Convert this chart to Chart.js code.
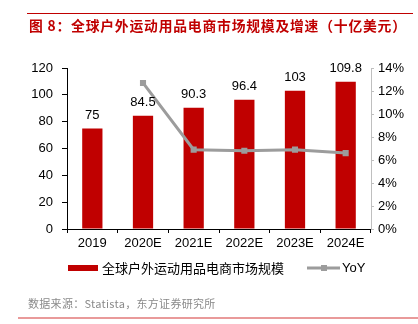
<!DOCTYPE html>
<html>
<head>
<meta charset="utf-8">
<script src="https://cdn.jsdelivr.net/npm/chart.js@4/dist/chart.umd.min.js"></script>
<style>
html,body{margin:0;padding:0;background:#fff;}
#wrap{position:relative;width:418px;height:324px;}
canvas{display:block;}
</style>
</head>
<body>
<div id="wrap"><canvas id="c" width="418" height="324"></canvas></div>
<script>
const titleText = '图 8：全球户外运动用品电商市场规模及增速（十亿美元）';
const sourceText = '数据来源：Statista，东方证券研究所';
const categories = ['2019', '2020E', '2021E', '2022E', '2023E', '2024E'];
const marketSize = [75, 84.5, 90.3, 96.4, 103, 109.8];
const yoy = [null, 0.127, 0.069, 0.068, 0.069, 0.066];
const barLabel = '全球户外运动用品电商市场规模';
const lineLabel = 'YoY';
const leftTicks = [0, 20, 40, 60, 80, 100, 120];
const rightTicks = [0, 0.02, 0.04, 0.06, 0.08, 0.10, 0.12, 0.14];

const RED = '#c00000';
const GRAY = '#9c9c9c';
const LATIN = "'Liberation Sans', Arial, 'Noto Sans CJK SC', sans-serif";
const CJK = "'Noto Sans CJK SC', 'Liberation Sans', sans-serif";

const decor = {
  id: 'decor',
  afterDatasetsDraw(chart) {
    const ctx = chart.ctx;
    const meta = chart.getDatasetMeta(0);
    ctx.save();
    ctx.font = '13px ' + LATIN;
    ctx.fillStyle = '#000';
    ctx.textAlign = 'center';
    ctx.textBaseline = 'alphabetic';
    meta.data.forEach((bar, i) => {
      ctx.fillText(String(marketSize[i]), bar.x, bar.y - 9.5);
    });
    ctx.restore();
  },
  afterDraw(chart) {
    const ctx = chart.ctx;
    ctx.save();
    // title rule
    ctx.strokeStyle = RED;
    ctx.lineWidth = 1;
    ctx.beginPath(); ctx.moveTo(27, 13.5); ctx.lineTo(413, 13.5); ctx.stroke();
    // title
    ctx.fillStyle = RED;
    ctx.font = 'bold 13.8px ' + CJK;
    ctx.textAlign = 'left';
    ctx.textBaseline = 'middle';
    ctx.letterSpacing = '0.8px';
    ctx.fillText(titleText, 29, 26);
    ctx.letterSpacing = '0px';
    // legend
    const ly = 268;
    ctx.fillStyle = RED;
    ctx.fillRect(68, ly - 3, 30, 6);
    ctx.fillStyle = '#000';
    ctx.font = '13px ' + CJK;
    ctx.fillText(barLabel, 102, ly);
    ctx.strokeStyle = GRAY;
    ctx.lineWidth = 3;
    ctx.beginPath(); ctx.moveTo(307, ly); ctx.lineTo(340, ly); ctx.stroke();
    ctx.fillStyle = GRAY;
    ctx.fillRect(321, ly - 3, 6, 6);
    ctx.fillStyle = '#000';
    ctx.font = '13px ' + LATIN;
    ctx.fillText(lineLabel, 342, ly);
    // source
    ctx.fillStyle = '#8a8a8a';
    ctx.font = '11px ' + CJK;
    ctx.letterSpacing = '0.3px';
    ctx.fillText(sourceText, 28, 304);
    ctx.letterSpacing = '0px';
    // bottom rule
    ctx.strokeStyle = '#e99a9a';
    ctx.lineWidth = 2;
    ctx.beginPath(); ctx.moveTo(18, 318); ctx.lineTo(418, 318); ctx.stroke();
    ctx.restore();
  }
};

new Chart(document.getElementById('c'), {
  data: {
    labels: categories,
    datasets: [
      {
        type: 'bar',
        label: barLabel,
        data: marketSize,
        backgroundColor: RED,
        borderWidth: 0,
        categoryPercentage: 1,
        barPercentage: 0.4,
        yAxisID: 'y',
        order: 1
      },
      {
        type: 'line',
        label: lineLabel,
        data: yoy,
        borderColor: GRAY,
        backgroundColor: GRAY,
        borderWidth: 3,
        pointStyle: 'rect',
        pointRadius: 4.3,
        pointBorderWidth: 0,
        tension: 0,
        yAxisID: 'y1',
        order: 0
      }
    ]
  },
  options: {
    responsive: false,
    animation: false,
    devicePixelRatio: 1,
    layout: { padding: { top: 68, bottom: 65, left: 0, right: 0 } },
    plugins: {
      legend: { display: false },
      title: { display: false },
      tooltip: { enabled: false }
    },
    scales: {
      x: {
        grid: { display: true, drawOnChartArea: false, drawTicks: true, tickLength: 4, color: '#000', offset: true },
        border: { color: '#000', width: 1 },
        ticks: { font: { size: 13, family: LATIN }, color: '#000', padding: 3, maxRotation: 0 },
        afterFit(s) { s.height = 30; }
      },
      y: {
        position: 'left',
        min: 0, max: 120,
        afterBuildTicks(s) { s.ticks = leftTicks.map(v => ({ value: v })); },
        grid: { drawOnChartArea: false, drawTicks: true, tickLength: 5, color: '#000' },
        border: { color: '#000', width: 1 },
        ticks: { font: { size: 13, family: LATIN }, color: '#000', padding: 9 },
        afterFit(s) { s.width = 67; }
      },
      y1: {
        position: 'right',
        min: 0, max: 0.14,
        afterBuildTicks(s) { s.ticks = rightTicks.map(v => ({ value: v })); },
        grid: { drawOnChartArea: false, drawTicks: true, tickLength: 3, color: '#bfbfbf' },
        border: { color: '#bfbfbf', width: 1 },
        ticks: {
          font: { size: 13, family: LATIN }, color: '#000', padding: 4,
          callback: v => Math.round(v * 100) + '%'
        },
        afterFit(s) { s.width = 47; }
      }
    }
  },
  plugins: [decor]
});
</script>
</body>
</html>
